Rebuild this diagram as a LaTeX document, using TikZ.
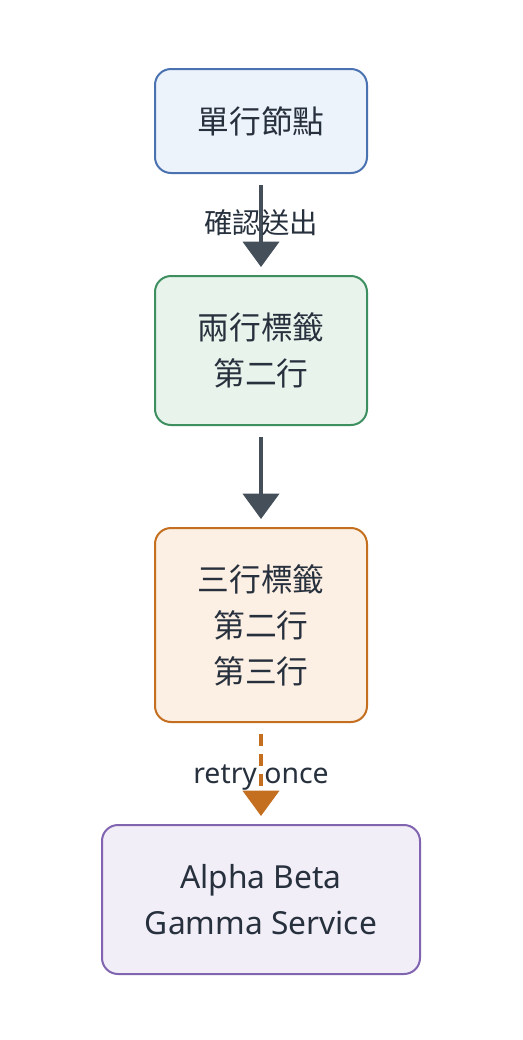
\documentclass[tikz,border=0pt]{standalone}
\usepackage{fontspec}
\setmainfont{Noto Sans}
\newfontfamily\cjk{Noto Sans CJK TC}
\usetikzlibrary{arrows.meta}
\definecolor{inktext}{HTML}{27303D}
\definecolor{edgegray}{HTML}{444F5A}
\definecolor{blueline}{HTML}{4A72B0}
\definecolor{bluefill}{HTML}{EDF3FB}
\definecolor{greenline}{HTML}{3D8F5F}
\definecolor{greenfill}{HTML}{E8F3EC}
\definecolor{orangeline}{HTML}{C46F1F}
\definecolor{orangefill}{HTML}{FCEFE3}
\definecolor{purpleline}{HTML}{8064B0}
\definecolor{purplefill}{HTML}{F2EEF8}
\begin{document}
\begin{tikzpicture}[x=0.75pt,y=-0.75pt,
    box/.style={draw,line width=1.5pt,rounded corners=12pt,align=center,
      text=inktext,font=\fontsize{23.8}{34.5}\selectfont},
    flow/.style={line width=3pt,edgegray,-{Triangle[width=27pt,length=19pt]},
      shorten <=8.25pt,shorten >=6pt},
    tag/.style={midway,text=inktext,font=\fontsize{21.3}{24}\selectfont}]
  \useasboundingbox (0,0) rectangle (522,1040);
  % boxes
  \node[box,draw=blueline,fill=bluefill,minimum width=159pt,minimum height=78pt]
    (single) at (261,121) {\cjk 單行節點};
  \node[box,draw=greenline,fill=greenfill,minimum width=159pt,minimum height=111.75pt]
    (double) at (261,350.5) {\cjk 兩行標籤\\\cjk 第二行};
  \node[box,draw=orangeline,fill=orangefill,minimum width=159pt,minimum height=145.5pt]
    (triple) at (261,625) {\cjk 三行標籤\\\cjk 第二行\\\cjk 第三行};
  \node[box,draw=purpleline,fill=purplefill,minimum width=238.5pt,minimum height=111.75pt]
    (service) at (261,899.5) {Alpha Beta\\Gamma Service};
  % edges
  \draw[flow] (single) -- (double) node[tag,yshift=1.5pt] {\cjk 確認送出};
  \draw[flow] (double) -- (triple);
  \draw[flow,orangeline,dash pattern=on 9pt off 6pt] (triple) -- (service)
    node[tag,yshift=-3pt] {retry once};
\end{tikzpicture}
\end{document}
